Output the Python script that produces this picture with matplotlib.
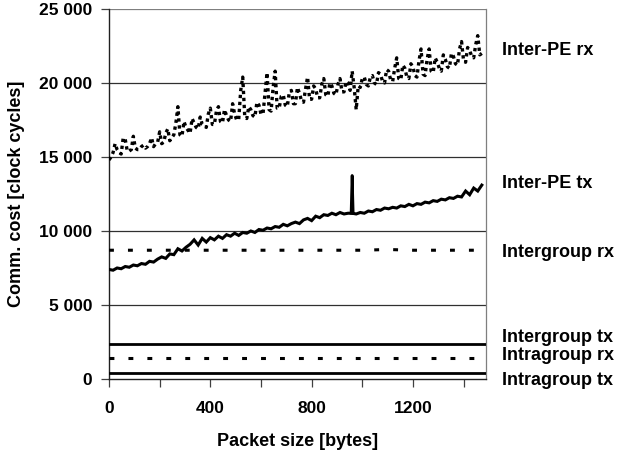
import matplotlib
matplotlib.use("Agg")
import matplotlib.pyplot as plt
from matplotlib.ticker import FuncFormatter, MultipleLocator

plt.rcParams['font.family'] = ['Liberation Sans', 'DejaVu Sans']
plt.rcParams['font.weight'] = 'bold'

# ---------------- data ----------------
sizes = list(range(0, 1473, 16))
sizes_odd = list(range(8, 1465, 16))

inter_pe_rx = [14800, 15300, 15500, 15200, 16200, 15400, 16400, 15500, 15700, 15600,
               15900, 15700, 16000, 15900, 16600, 16100, 16500, 18400, 16400, 17000,
               16600, 17300, 16900, 17200, 17000, 18300, 17200, 18400, 17300, 17800,
               17400, 17900, 17500, 20400, 17600, 18200, 17700, 18500, 17900, 20700,
               18100, 20800, 18300, 19200, 18400, 19500, 18600, 19300, 18700, 20400,
               18900, 19600, 19000, 20300, 19100, 19800, 19200, 20300, 19400, 20000,
               20800, 18200, 19700, 20400, 19800, 20500, 19900, 20600, 20000, 20800,
               20100, 21700, 20200, 21000, 20300, 21100, 20400, 22300, 20500, 22300,
               20700, 21400, 20800, 21600, 21000, 21800, 21200, 22800, 21400, 22200,
               21700, 23200, 22000]

inter_pe_rx_odd = [15000, 15900, 15300, 16300, 15400, 15500, 15600, 15500, 15800, 15700,
                   16300, 15900, 16700, 16000, 16900, 16300, 17300, 16500, 17400, 16800,
                   17600, 17000, 17700, 17100, 17900, 17200, 18100, 17400, 18200, 17500,
                   18600, 17500, 19500, 17700, 18400, 17800, 18700, 17900, 19300, 18200,
                   19700, 18300, 19100, 18500, 19400, 18600, 19700, 18800, 19600, 18900,
                   19800, 19000, 19900, 19200, 20000, 19300, 19900, 19400, 20100, 19500,
                   19700, 19800, 20300, 19900, 20400, 20000, 20700, 20100, 20900, 20200,
                   21000, 20300, 21200, 20400, 21300, 20500, 21500, 20600, 21600, 20800,
                   21700, 21000, 21900, 21100, 22000, 21300, 22300, 21500, 22400, 21800,
                   22600, 21900]

inter_pe_tx = [7400, 7350, 7500, 7450, 7600, 7550, 7700, 7650, 7800, 7750,
               7950, 7900, 8100, 8250, 8150, 8450, 8400, 8800, 8650, 8900,
               9100, 9400, 9050, 9500, 9250, 9550, 9400, 9650, 9500, 9750,
               9650, 9850, 9700, 9900, 9850, 10000, 9900, 10100, 10050, 10200,
               10150, 10300, 10250, 10450, 10350, 10500, 10600, 10500, 10750, 10850,
               10700, 11000, 10900, 11100, 11050, 11200, 11100, 11250, 11150, 11200,
               11200, 11150, 11250, 11200, 11350, 11300, 11450, 11400, 11550, 11500,
               11600, 11550, 11700, 11650, 11800, 11700, 11850, 11800, 11950, 11900,
               12050, 12000, 12150, 12100, 12250, 12200, 12350, 12300, 12700, 12450,
               12900, 12700, 13100]

spike_sizes = [956, 960, 964]
spike_vals = [11200, 13750, 11200]

flat_sizes = [0, 100, 200, 300, 400, 500, 600, 700, 800, 900, 1000, 1100, 1200, 1300, 1400, 1490]
intergroup_rx = [8700, 8700, 8700, 8700, 8700, 8700, 8700, 8700, 8700, 8700, 8700, 8750, 8700, 8700, 8700, 8700]
intergroup_tx = [2350] * 16
intragroup_rx = [1400] * 16
intragroup_tx = [400] * 16

labels = ["Inter-PE rx", "Inter-PE tx", "Intergroup rx", "Intergroup tx", "Intragroup rx", "Intragroup tx"]
label_y = [22200, 13200, 8560, 2830, 1620, -80]

# merge the two interleaved measurement sets of Inter-PE rx (8-byte steps)
rx_pairs = sorted(list(zip(sizes, inter_pe_rx)) + list(zip(sizes_odd, inter_pe_rx_odd)))
rx_x = [p[0] for p in rx_pairs]
rx_y = [p[1] for p in rx_pairs]

# ---------------- figure ----------------
fig = plt.figure(figsize=(6.18, 4.61), dpi=100)
ax = fig.add_axes([0.1764, 0.1779, 0.787 - 0.1764, 0.9805 - 0.1779])

for v in range(5000, 25001, 5000):
    ax.axhline(v, color='#7f7f7f' if v == 25000 else '#303030', lw=0.9, zorder=1)

ax.plot(rx_x, rx_y, color='black', lw=2.4, linestyle=(0, (1.0, 1.1)), zorder=3)
ax.plot(sizes, inter_pe_tx, color='black', lw=2.2, zorder=3, solid_joinstyle='miter')
ax.plot(spike_sizes, spike_vals, color='black', lw=2.0, zorder=3)
ax.plot(flat_sizes, intergroup_rx, color='black', lw=2.2, linestyle=(0, (1.6, 4.6)), zorder=3)
ax.plot(flat_sizes, intergroup_tx, color='black', lw=2.0, zorder=3)
ax.plot(flat_sizes, intragroup_rx, color='black', lw=2.2, linestyle=(0, (1.6, 4.6)), zorder=3)
ax.plot(flat_sizes, intragroup_tx, color='black', lw=2.0, zorder=3)

ax.set_xlim(0, 1490)
ax.set_ylim(0, 25000)

ax.xaxis.set_major_locator(MultipleLocator(400))
ax.xaxis.set_minor_locator(MultipleLocator(200))
ax.yaxis.set_major_locator(MultipleLocator(5000))
ax.yaxis.set_major_formatter(FuncFormatter(lambda v, p: f"{int(v):,}".replace(",", " ")))

ax.tick_params(axis='x', which='both', direction='out', length=6, width=0.9, color='#404040', labelsize=12.5, pad=10)
ax.tick_params(axis='y', direction='out', length=6, width=0.9, color='#404040', labelsize=12.5, pad=6)
for lab in ax.get_xticklabels() + ax.get_yticklabels():
    lab.set_fontweight('bold')

ax.spines['top'].set_visible(False)
ax.spines['right'].set_color('#7f7f7f')
ax.spines['right'].set_linewidth(0.9)
ax.spines['left'].set_color('#202020')
ax.spines['bottom'].set_color('#202020')
ax.spines['left'].set_linewidth(1.0)
ax.spines['bottom'].set_linewidth(1.0)

ax.set_xlabel("Packet size [bytes]", fontsize=13, fontweight='bold', labelpad=12)
ax.set_ylabel("Comm. cost [clock cycles]", fontsize=13, fontweight='bold', labelpad=10)

tr = ax.get_yaxis_transform()
for t, y in zip(labels, label_y):
    ax.text(1.041, y, t, transform=tr, fontsize=13, fontweight='bold', va='center', ha='left', clip_on=False)

fig.savefig("out.png", dpi=100)
